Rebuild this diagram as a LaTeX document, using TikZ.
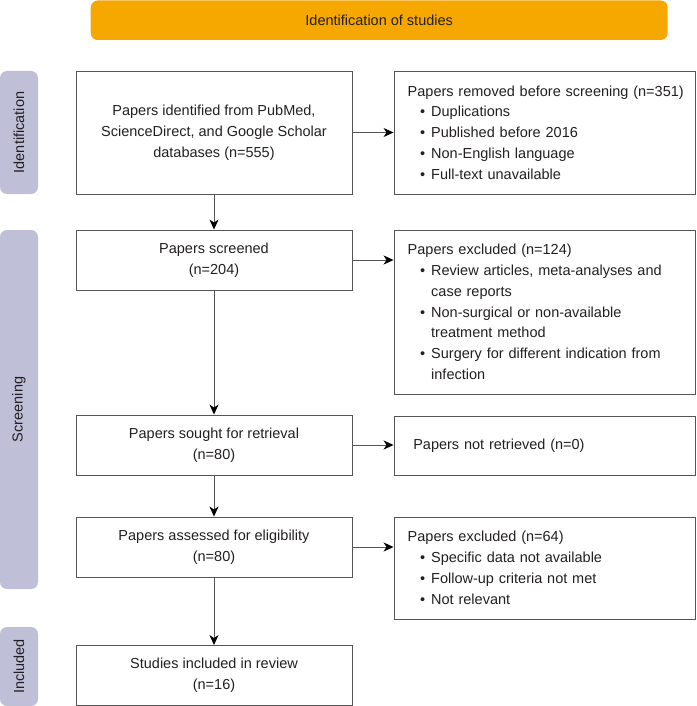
\documentclass[tikz,border=0pt]{standalone}
\usepackage{fontspec}
\setmainfont{Liberation Sans}
\usetikzlibrary{arrows.meta}
\definecolor{orng}{RGB}{246,168,0}
\definecolor{lav}{RGB}{191,191,215}
\definecolor{bord}{RGB}{85,85,85}
\definecolor{txt}{RGB}{35,31,32}
\newcommand{\pbul}[1]{\mbox{\makebox[23.5pt][l]{\hspace{12.5pt}\textbullet}#1}}
\newcommand{\pcont}[1]{\mbox{\hspace*{23.5pt}#1}}
\begin{document}
\begin{tikzpicture}[x=1pt,y=-1pt,
  every node/.style={font=\fontsize{14.5}{20.8}\selectfont, text=txt},
  banner/.style={fill=orng, rounded corners=7pt, minimum width=577pt, minimum height=39.5pt, inner sep=0pt},
  side/.style={fill=lav, rounded corners=7pt, minimum height=38pt, inner sep=0pt, rotate=90},
  lbox/.style={draw=bord, line width=0.9pt, minimum width=276pt, align=center, inner sep=0pt},
  rbox/.style={draw=bord, line width=0.9pt, text width=273.6pt, inner xsep=13.7pt, inner ysep=0pt, align=left},
  arr/.style={draw=bord, line width=0.9pt, -{Stealth[length=10pt,width=9pt,inset=3pt,black]}}
]
\useasboundingbox (0,0) rectangle (696,706);

\node[banner] (ban) at (379.2,20.25) {Identification of studies};

\node[side, minimum width=123pt] (s1) at (19,132.5) {Identification};
\node[side, minimum width=359pt] (s2) at (19,409.5) {Screening};
\node[side, minimum width=79pt] (s3) at (19,666.5) {Included};

\node[lbox, minimum height=123pt] (b1) at (214,132.5) {Papers identified from PubMed,\\ScienceDirect, and Google Scholar\\databases (n=555)};
\node[lbox, minimum height=60pt] (b2) at (214,260) {Papers screened\\(n=204)};
\node[lbox, minimum height=60pt] (b3) at (214,445) {Papers sought for retrieval\\(n=80)};
\node[lbox, minimum height=60pt] (b4) at (214,547) {Papers assessed for eligibility\\(n=80)};
\node[lbox, minimum height=60pt] (b5) at (214,675.5) {Studies included in review\\(n=16)};

\node[rbox, minimum height=123pt] (r1) at (544.5,132.5) {\mbox{Papers removed before screening (n=351)}\\
\pbul{Duplications}\\
\pbul{Published before 2016}\\
\pbul{Non-English language}\\
\pbul{Full-text unavailable}};
\node[rbox, minimum height=164pt] (r2) at (544.5,312) {\mbox{Papers excluded (n=124)}\\
\pbul{Review articles, meta-analyses and}\\
\pcont{case reports}\\
\pbul{Non-surgical or non-available}\\
\pcont{treatment method}\\
\pbul{Surgery for different indication from}\\
\pcont{infection}};
\node[rbox, minimum height=59pt] (r3) at (544.5,445.5) {\mbox{\hspace*{5.6pt}Papers not retrieved (n=0)}};
\node[rbox, minimum height=102pt] (r4) at (544.5,568) {\mbox{Papers excluded (n=64)}\\
\pbul{Specific data not available}\\
\pbul{Follow-up criteria not met}\\
\pbul{Not relevant}};

\draw[arr] (b1.south) -- (b2.north);
\draw[arr] (b2.south) -- (b3.north);
\draw[arr] (b3.south) -- (b4.north);
\draw[arr] (b4.south) -- (b5.north);
\draw[arr] (b1.east) -- (b1.east -| r1.west);
\draw[arr] (b2.east) -- (b2.east -| r2.west);
\draw[arr] (b3.east) -- (b3.east -| r3.west);
\draw[arr] (b4.east) -- (b4.east -| r4.west);
\end{tikzpicture}
\end{document}
